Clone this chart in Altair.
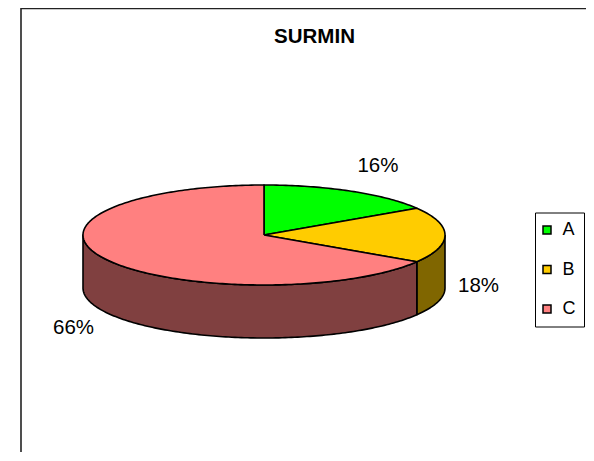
import numpy as np
import pandas as pd
import altair as alt

# ---- data ----
title_text = "SURMIN"
categories = ["A", "B", "C"]
values = [16, 18, 66]
top_colors = ["#00FF00", "#FFCC00", "#FF8080"]
side_colors = ["#008000", "#806600", "#804040"]

# ---- layout (drawing-area units) ----
W, H = 578, 444
CX, CY = 256, 227
RX, RY = 181, 50
DEPTH = 53
LAB_RX, LAB_RY = 194, 70
LAB_HW, LAB_HH = 20.5, 8
LAB_DROP = 51
FONT = "Liberation Sans"

total = float(sum(values))
fracs = [v / total for v in values]
starts = np.cumsum([0.0] + fracs[:-1]) * 360.0
ends = starts + np.array(fracs) * 360.0


def rim(a1, a2, dy=0.0):
    n = max(2, int(np.ceil(abs(a2 - a1))) + 1)
    t = np.radians(np.linspace(a1, a2, n))
    return CX + RX * np.sin(t), CY - RY * np.cos(t) + dy


top_rows = []
for cat, a1, a2 in zip(categories, starts, ends):
    xs, ys = rim(a1, a2)
    pts = [(CX, CY)] + list(zip(xs, ys)) + [(CX, CY)]
    for i, (x, y) in enumerate(pts):
        top_rows.append(dict(cat=cat, i=i, x=x, y=y))
top_df = pd.DataFrame(top_rows)

side_rows = []
for cat, col, a1, a2 in zip(categories, side_colors, starts, ends):
    s, e = max(a1, 90.0), min(a2, 270.0)
    if e <= s:
        continue
    xt, yt = rim(s, e)
    xb, yb = rim(e, s, DEPTH)
    pts = list(zip(xt, yt)) + list(zip(xb, yb)) + [(xt[0], yt[0])]
    for i, (x, y) in enumerate(pts):
        side_rows.append(dict(cat=cat, color=col, i=i, x=x, y=y))
side_df = pd.DataFrame(side_rows)

lab_rows = []
for cat, v, a1, a2 in zip(categories, values, starts, ends):
    m = np.radians((a1 + a2) / 2)
    sn, cs = np.sin(m), np.cos(m)
    sx = np.sign(sn) if abs(sn) > 0.1 else 0
    sy = np.sign(cs) if abs(cs) > 0.1 else 0
    lx = CX + LAB_RX * sn + LAB_HW * sx
    ly = CY - LAB_RY * cs - LAB_HH * sy + (LAB_DROP if cs < 0.1 else 0)
    lab_rows.append(dict(cat=cat, x=lx, y=ly, label=f"{round(v / total * 100)}%"))
lab_df = pd.DataFrame(lab_rows)

xenc = alt.X("x:Q", scale=alt.Scale(domain=[0, W], nice=False, zero=False), axis=None)
yenc = alt.Y("y:Q", scale=alt.Scale(domain=[0, H], nice=False, zero=False, reverse=True), axis=None)

sides = alt.Chart(side_df).mark_line(strokeWidth=1.6, strokeJoin="round").encode(
    x=xenc, y=yenc, detail="cat:N", order="i:Q",
    stroke=alt.value("black"),
    fill=alt.Fill("color:N", scale=None, legend=None),
)

tops = alt.Chart(top_df).mark_line(strokeWidth=1.6, strokeJoin="round").encode(
    x=xenc, y=yenc, detail="cat:N", order="i:Q",
    stroke=alt.value("black"),
    fill=alt.Fill(
        "cat:N",
        scale=alt.Scale(domain=categories, range=top_colors),
        legend=alt.Legend(
            title=None, orient="none", legendX=527, legendY=204.5,
            symbolType="square", symbolSize=64, symbolStrokeColor="black",
            symbolStrokeWidth=1.5, symbolOpacity=1, symbolOffset=-5.5,
            labelFont=FONT, labelFontSize=18, labelColor="black", labelOffset=6.5,
            rowPadding=21.5, padding=8.5, strokeColor="black", fillColor="white",
        ),
    ),
)

labels = alt.Chart(lab_df).mark_text(
    font=FONT, fontSize=20.5, color="black", align="center", baseline="middle"
).encode(x=xenc, y=yenc, text="label:N")

title = alt.Chart(pd.DataFrame({"t": [title_text]})).mark_text(
    font=FONT, fontSize=20.5, fontWeight="bold", color="black",
    align="center", baseline="alphabetic",
).encode(x=alt.value(306.5), y=alt.value(35), text="t:N")

frame_df = pd.DataFrame({"k": [0]})
frame_left = alt.Chart(frame_df).mark_rule(color="#222222", strokeWidth=1.6).encode(
    x=alt.value(13), y=alt.value(0), y2=alt.value(H)
)
frame_top = alt.Chart(frame_df).mark_rule(color="#222222", strokeWidth=1.6).encode(
    x=alt.value(13), x2=alt.value(W), y=alt.value(0.5)
)

chart = (
    alt.layer(frame_left, frame_top, sides, tops, labels, title)
    .resolve_scale(fill="independent")
    .properties(width=W, height=H, padding=0, autosize=alt.AutoSizeParams(type="none"))
    .configure_view(strokeWidth=0)
)

chart.save("out.html", embed_options={"renderer": "svg", "actions": False})
